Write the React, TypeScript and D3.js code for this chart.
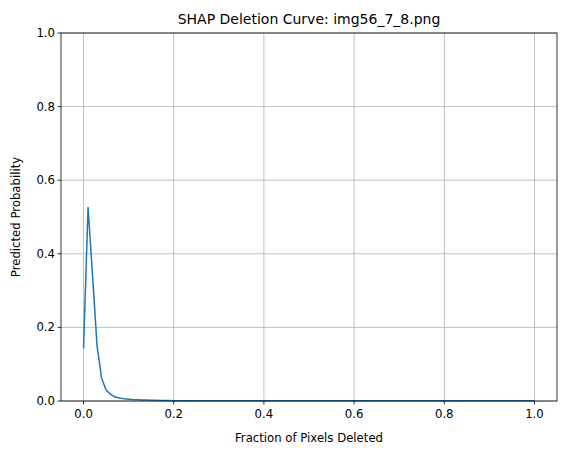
import * as d3 from "d3";

const xTicks = [0, 0.2, 0.4, 0.6, 0.8, 1.0];
const yTicks = [0, 0.2, 0.4, 0.6, 0.8, 1.0];
const headValues = [
  0.143, 0.527, 0.34, 0.15, 0.062, 0.03, 0.018, 0.011, 0.008, 0.006, 0.005,
  0.004, 0.0035, 0.003, 0.0025, 0.002, 0.0018, 0.0015, 0.0013, 0.0012, 0.001,
];
const tailValue = 0.0005;
const fractions = d3.range(101).map((i) => i / 100);
const probs = fractions.map((_, i) => (i < headValues.length ? headValues[i] : tailValue));

export default function App() {
  const m = { l: 61, r: 557, t: 33, b: 401 };
  const x = d3.scaleLinear().domain([-0.05, 1.05]).range([m.l, m.r]);
  const y = d3.scaleLinear().domain([0, 1]).range([m.b, m.t]);
  const line = d3
    .line<number>()
    .x((_, i) => x(fractions[i]))
    .y((d) => y(d));
  const font = "DejaVu Sans, sans-serif";
  const fs = 11.7;
  return (
    <svg
      width={567}
      height={455}
      style={{ position: "absolute", left: 0, top: 0, background: "white" }}
      fontFamily={font}
    >
      {xTicks.map((t) => (
        <line key={"gx" + t} x1={x(t)} x2={x(t)} y1={m.t} y2={m.b} stroke="#b0b0b0" strokeWidth={0.8} />
      ))}
      {yTicks.map((t) => (
        <line key={"gy" + t} x1={m.l} x2={m.r} y1={y(t)} y2={y(t)} stroke="#b0b0b0" strokeWidth={0.8} />
      ))}
      <path d={line(probs) ?? ""} fill="none" stroke="#1f77b4" strokeWidth={1.5} />
      <rect x={m.l} y={m.t} width={m.r - m.l} height={m.b - m.t} fill="none" stroke="black" strokeWidth={0.8} />
      {xTicks.map((t) => (
        <g key={"xt" + t}>
          <line x1={x(t)} x2={x(t)} y1={m.b} y2={m.b + 3.5} stroke="black" strokeWidth={0.8} />
          <text x={x(t)} y={m.b + 17} fontSize={fs} textAnchor="middle">{t.toFixed(1)}</text>
        </g>
      ))}
      {yTicks.map((t) => (
        <g key={"yt" + t}>
          <line x1={m.l - 3.5} x2={m.l} y1={y(t)} y2={y(t)} stroke="black" strokeWidth={0.8} />
          <text x={m.l - 6} y={y(t) + 4} fontSize={fs} textAnchor="end">{t.toFixed(1)}</text>
        </g>
      ))}
      <text x={(m.l + m.r) / 2} y={442} fontSize={fs} textAnchor="middle">Fraction of Pixels Deleted</text>
      <text transform={`translate(20,${(m.t + m.b) / 2}) rotate(-90)`} fontSize={fs} textAnchor="middle">Predicted Probability</text>
      <text x={(m.l + m.r) / 2} y={24} fontSize={14} textAnchor="middle">SHAP Deletion Curve: img56_7_8.png</text>
    </svg>
  );
}
